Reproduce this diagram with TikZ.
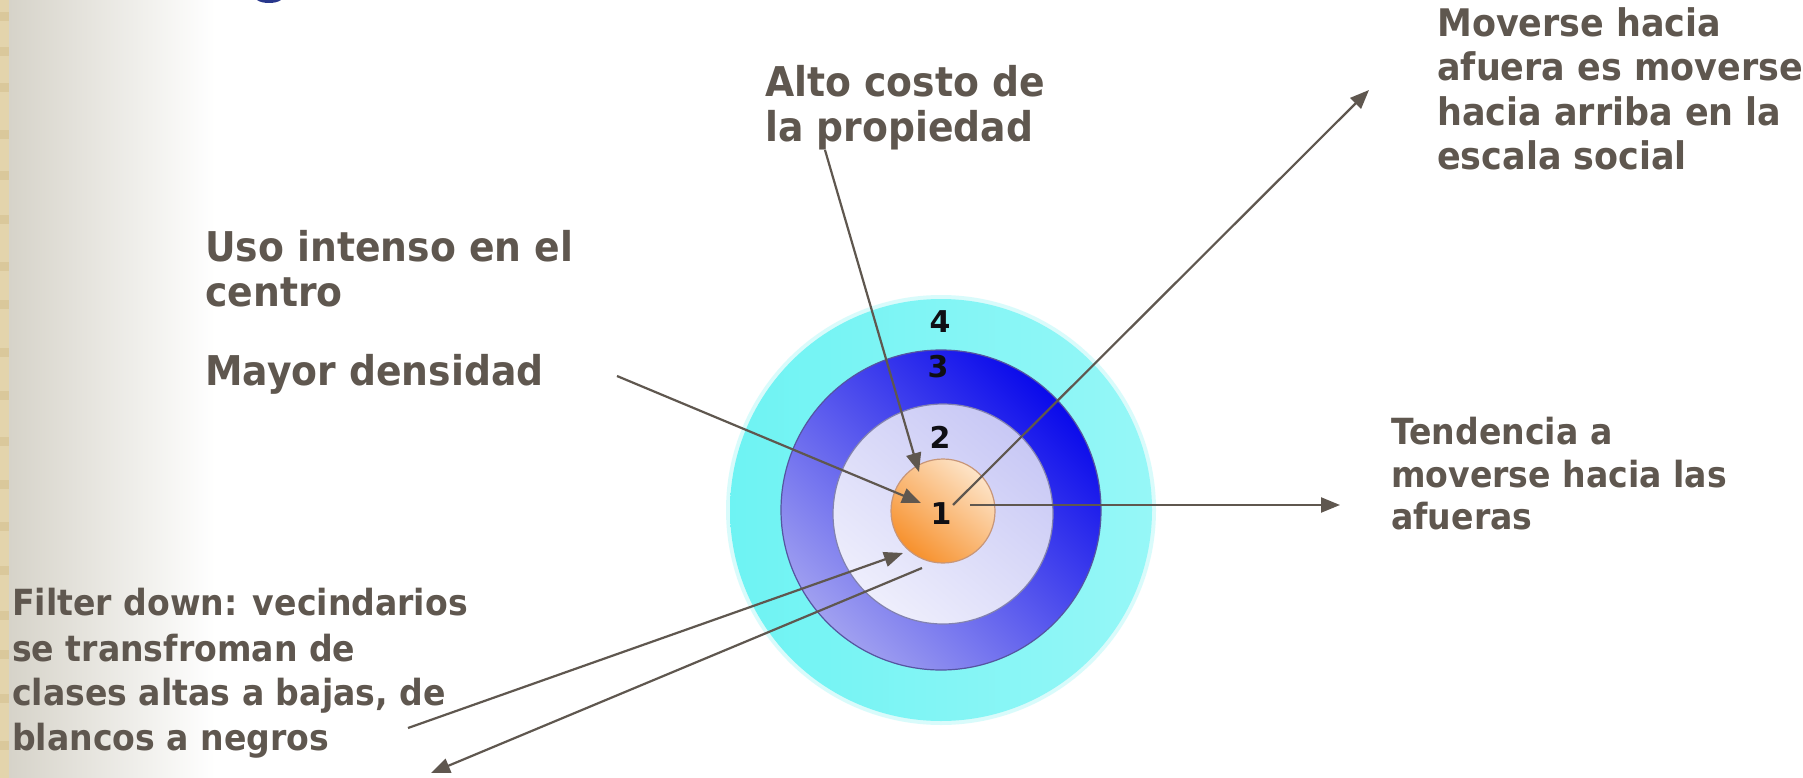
\documentclass[tikz,border=0pt]{standalone}
\usepackage{fontspec}
\setmainfont{DejaVu Sans}[FakeStretch=0.92]
\newfontfamily\numfont{DejaVu Sans}
\usetikzlibrary{arrows.meta}
\definecolor{txt}{RGB}{95,87,79}
\definecolor{grayL}{RGB}{214,211,201}
\definecolor{beige}{RGB}{227,212,172}
\definecolor{beigeD}{RGB}{212,192,145}
\definecolor{titleblue}{RGB}{40,55,140}
\definecolor{cyanR}{RGB}{132,245,245}
\definecolor{cyanL}{RGB}{110,243,243}
\definecolor{cyanRt}{RGB}{150,247,247}
\definecolor{blueD}{RGB}{10,10,235}
\definecolor{blueL}{RGB}{160,160,240}
\definecolor{blueEdge}{RGB}{85,85,160}
\definecolor{lavD}{RGB}{200,200,245}
\definecolor{lavL}{RGB}{238,238,252}
\definecolor{lavEdge}{RGB}{130,130,175}
\definecolor{peach}{RGB}{253,228,200}
\definecolor{orangeD}{RGB}{247,145,45}
\definecolor{orEdge}{RGB}{200,150,120}
\tikzset{
  lbl/.style={anchor=base west, inner sep=0pt, text=txt, font=\bfseries\fontsize{36}{44}\selectfont},
  lblmid/.style={lbl, font=\bfseries\fontsize{38}{45}\selectfont},
  lblbig/.style={lbl, font=\bfseries\fontsize{41}{46}\selectfont},
  num/.style={anchor=center, inner sep=0pt, text={rgb,255:red,15;green,15;blue,20}, font=\numfont\bfseries\fontsize{30}{34}\selectfont},
  conn/.style={draw=txt, line width=2.2pt, -{Triangle[length=19pt,width=15pt]}}
}
\begin{document}
\begin{tikzpicture}[x=1pt,y=-1pt]
\useasboundingbox (0,0) rectangle (1803,778);
\fill[white] (0,0) rectangle (1803,778);
\shade[left color=grayL, right color=white] (9,0) rectangle (215,778);
\fill[beige] (0,0) rectangle (9,778);
\foreach \yy in {12,47,83,130,171,215,262,300,348,391,437,480,522,566,611,650,694,741}{
  \fill[beigeD, opacity=0.6] (0,\yy) rectangle (9,\yy+9);
}
% title glyph fragment
\fill[titleblue] (257,0) .. controls (262,4) and (276,4) .. (281,0) -- cycle;
% rings
\fill[cyanR, opacity=0.3] (941,510) circle[radius=215pt];
\shade[left color=cyanL, right color=cyanRt] (941,510) circle[radius=211pt];
\shade[top color=blueD, bottom color=blueL, shading angle=-45, draw=blueEdge, line width=1.2pt] (941,510) circle[radius=160pt];
\shade[top color=lavD, bottom color=lavL, shading angle=-40, draw=lavEdge, line width=1.2pt] (943,514) circle[radius=110pt];
\shade[top color=peach, bottom color=orangeD, shading angle=-40, draw=orEdge, line width=1.2pt] (943,511) circle[radius=52pt];
\node[num] (n4) at (940,322) {4};
\node[num] (n3) at (938,367) {3};
\node[num] (n2) at (940,437) {2};
\node[num] (n1) at (941,514) {1};
% labels
\node[lblbig] (alto1) at (765,97) {Alto costo de};
\node[lblbig] (alto2) at (765,142) {la propiedad};
\node[lblbig] (uso1) at (205,261) {Uso intenso en el};
\node[lblbig] (uso2) at (205,306) {centro};
\node[lblbig] (mayor) at (205,385) {Mayor densidad};
\node[lblmid] (mov1) at (1437,37) {Moverse hacia};
\node[lblmid] (mov2) at (1437,81) {afuera es moverse};
\node[lblmid] (mov3) at (1437,126) {hacia arriba en la};
\node[lblmid] (mov4) at (1437,170) {escala social};
\node[lbl] (ten1) at (1391,444) {Tendencia a};
\node[lbl] (ten2) at (1391,487) {moverse hacia las};
\node[lbl] (ten3) at (1391,529) {afueras};
\node[lbl] (fil1) at (12,615) {Filter down: vecindarios};
\node[lbl] (fil2) at (12,661) {se transfroman de};
\node[lbl] (fil3) at (12,705) {clases altas a bajas, de};
\node[lbl] (fil4) at (12,750) {blancos a negros};
% connector end points
\coordinate (altoS) at (825,150);
\coordinate (altoE) at (919,472);
\coordinate (mayorS) at (617,376);
\coordinate (mayorE) at (921,503);
\coordinate (movS) at (953,505);
\coordinate (movE) at (1369,90);
\coordinate (tenS) at (970,505);
\coordinate (tenE) at (1340,505);
\coordinate (filAS) at (408,728);
\coordinate (filAE) at (903,553);
\coordinate (filBS) at (922,568);
\coordinate (filBE) at (431,773);
\draw[conn] (altoS) -- (altoE);
\draw[conn] (mayorS) -- (mayorE);
\draw[conn] (movS) -- (movE);
\draw[conn] (tenS) -- (tenE);
\draw[conn] (filAS) -- (filAE);
\draw[conn] (filBS) -- (filBE);
\end{tikzpicture}
\end{document}
